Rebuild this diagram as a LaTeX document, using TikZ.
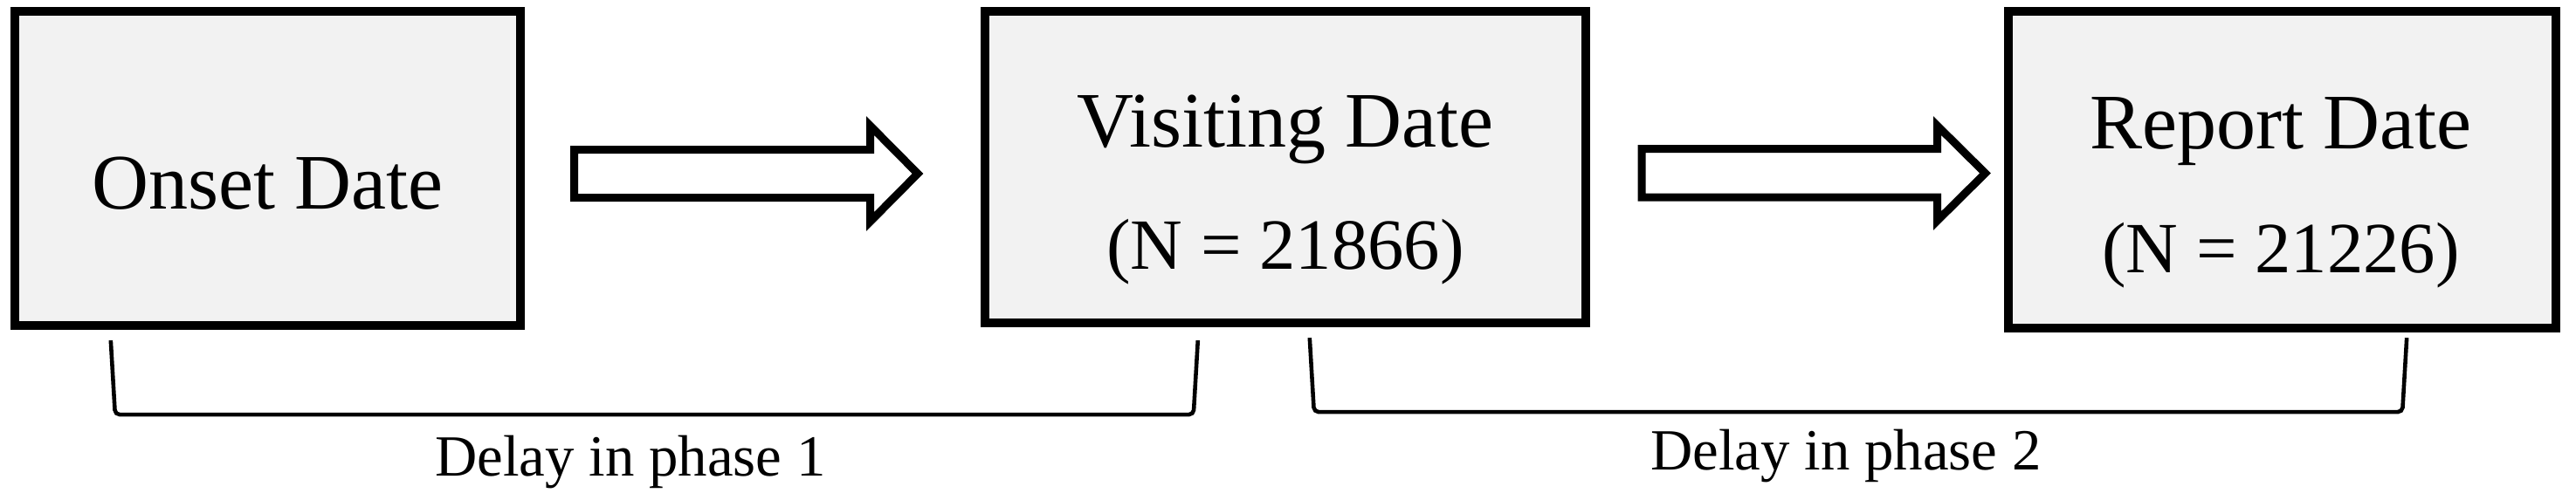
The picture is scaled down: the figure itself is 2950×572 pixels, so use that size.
\documentclass[tikz,border=0pt]{standalone}
\usepackage{fontspec}
\setmainfont{Liberation Serif}
\usetikzlibrary{calc}
\definecolor{boxfill}{RGB}{242,242,242}
\tikzset{
  datebox/.style={draw, line width=2.85pt, fill=boxfill, inner sep=0pt},
  bigarrow/.style={draw, line width=2.56pt, fill=white, line join=miter},
  bracket/.style={line width=1.3pt, rounded corners=1.5pt},
  boxtext/.style={anchor=base, font=\fontsize{25.6}{30}\selectfont},
  counttext/.style={anchor=base, font=\fontsize{23.5}{28}\selectfont},
  delaytext/.style={anchor=base, font=\fontsize{19}{23}\selectfont}
}

\begin{document}
\begin{tikzpicture}[x=0.01cm, y=0.01cm]
      \useasboundingbox (0,0) rectangle (2950,-572);
      \node[datebox, minimum width=5.79cm, minimum height=3.6cm] (onset) at (306.5,-193) {};
      \node[datebox, minimum width=6.88cm, minimum height=3.57cm] (visit) at (1472,-191.5) {};
      \node[datebox, minimum width=6.27cm, minimum height=3.63cm] (report) at (2613.5,-194.5) {};
      \node[boxtext] (onsettxt) at (306.5,-239) {Onset Date};
      \node[boxtext] (visittxt) at (1472,-168) {Visiting Date};
      \node[counttext] (visitn) at (1472,-308) {(N = 21866)};
      \node[boxtext] (reporttxt) at (2612,-170) {Report Date};
      \node[counttext] (reportn) at (2612,-312) {(N = 21226)};
      \draw[bigarrow] (657.5,-171.5) -- (996.5,-171.5) -- (996.5,-144) -- (1051,-199)
        -- (996.5,-254) -- (996.5,-226.5) -- (657.5,-226.5) -- cycle;
      \draw[bigarrow] (1880,-170.5) -- (2218.5,-170.5) -- (2218.5,-144) -- (2273.5,-198.5)
        -- (2218.5,-253) -- (2218.5,-226) -- (1880,-226) -- cycle;
      \coordinate (p1a) at ($(onset.south west)+(115,-12)$);
      \coordinate (p1b) at ($(visit.south west)+(249,-15)$);
      \coordinate (p2a) at ($(visit.south west)+(377,-12)$);
      \coordinate (p2b) at ($(report.south east)+(-176,-6)$);
      \draw[bracket] (p1a) -- ++(5,-85) -- ($(p1b)+(-5,-85)$) -- (p1b);
      \draw[bracket] (p2a) -- ++(5,-85) -- ($(p2b)+(-5,-85)$) -- (p2b);
      \node[delaytext] (delay1) at (722,-545) {Delay in phase 1};
      \node[delaytext] (delay2) at (2114,-538) {Delay in phase 2};
    \end{tikzpicture}
\end{document}
